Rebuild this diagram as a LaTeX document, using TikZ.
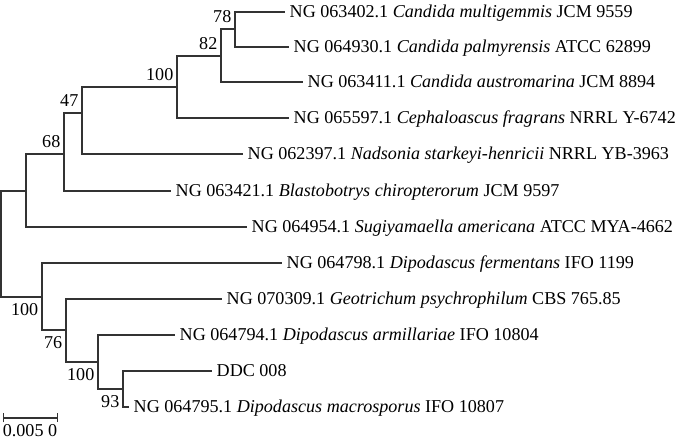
\documentclass[tikz,border=0pt]{standalone}
\usepackage{fontspec}
\setmainfont{Liberation Serif}
\usetikzlibrary{arrows.meta,positioning}

\begin{document}
\begin{tikzpicture}[x=1pt,y=-1pt,
    branch/.style={line width=1.1pt,draw=black!80},
    leaf/.style={anchor=west,inner xsep=4.5pt,inner ysep=0pt,text height=12pt,text depth=0pt,font=\fontsize{18.1}{20}\selectfont},
    bootup/.style={anchor=south east,inner sep=0pt,xshift=-3.5pt,yshift=6pt,font=\fontsize{18.1}{20}\selectfont},
    bootdown/.style={anchor=north east,inner sep=0pt,xshift=-3.5pt,yshift=-6.5pt,font=\fontsize{18.1}{20}\selectfont}]
    \useasboundingbox (0,0) rectangle (678,443);
		\coordinate (root) at (1,244);
		\coordinate (c1) at (26,191); %upper clade
		\coordinate (c2) at (64,154);
		\coordinate (c3) at (82,113);
		\coordinate (c4) at (177,87);
		\coordinate (c5) at (221,56);
		\coordinate (c6) at (235,29);
		\coordinate (c7) at (42,297); %lower clade
		\coordinate (c8) at (66,330);
		\coordinate (c9) at (98,362);
		\coordinate (c10) at (123,389);
		\node[leaf] (1) at (285,12) {NG 063402.1 \textit{Candida multigemmis} JCM 9559};
		\node[leaf] (2) at (289,47) {NG 064930.1 \textit{Candida palmyrensis} ATCC 62899};
		\node[leaf] (3) at (303,82) {NG 063411.1 \textit{Candida austromarina} JCM 8894};
		\node[leaf] (4) at (289,118) {NG 065597.1 \textit{Cephaloascus fragrans} NRRL Y-6742};
		\node[leaf] (5) at (243,154) {NG 062397.1 \textit{Nadsonia starkeyi-henricii} NRRL YB-3963};
		\node[leaf] (6) at (171,191) {NG 063421.1 \textit{Blastobotrys chiropterorum} JCM 9597};
		\node[leaf] (7) at (247,227) {NG 064954.1 \textit{Sugiyamaella americana} ATCC MYA-4662};
		\node[leaf] (8) at (282,263) {NG 064798.1 \textit{Dipodascus fermentans} IFO 1199};
		\node[leaf] (9) at (222,299) {NG 070309.1 \textit{Geotrichum psychrophilum} CBS 765.85};
		\node[leaf] (10) at (175,335) {NG 064794.1 \textit{Dipodascus armillariae} IFO 10804};
		\node[leaf] (11) at (212,371) {DDC 008};
		\node[leaf] (12) at (129,407) {NG 064795.1 \textit{Dipodascus macrosporus} IFO 10807};
		\draw[branch] (root) |- (c1) (root) |- (c7);
		\draw[branch] (c1) |- (c2) (c1) |- (7.west);
		\draw[branch] (c2) |- (c3) (c2) |- (6.west);
		\draw[branch] (c3) |- (c4) (c3) |- (5.west);
		\draw[branch] (c4) |- (c5) (c4) |- (4.west);
		\draw[branch] (c5) |- (c6) (c5) |- (3.west);
		\draw[branch] (c6) |- (1.west) (c6) |- (2.west);
		\draw[branch] (c7) |- (8.west) (c7) |- (c8);
		\draw[branch] (c8) |- (9.west) (c8) |- (c9);
		\draw[branch] (c9) |- (10.west) (c9) |- (c10);
		\draw[branch] (c10) |- (11.west) (c10) |- (12.west);
		\node[bootup] (b68) at (c2) {68};
		\node[bootup] (b47) at (c3) {47};
		\node[bootup] (b100a) at (c4) {100};
		\node[bootup] (b82) at (c5) {82};
		\node[bootup] (b78) at (c6) {78};
		\node[bootdown] (b100b) at (c7) {100};
		\node[bootdown] (b76) at (c8) {76};
		\node[bootdown] (b100c) at (c9) {100};
		\node[bootdown] (b93) at (c10) {93};
		\coordinate (s0) at (3,418);
		\coordinate (s1) at (58,418);
		\draw[branch,{Bar[width=9pt]}-{Bar[width=9pt]}] (s0) -- (s1);
		\node[inner sep=0pt,font=\fontsize{18.1}{20}\selectfont] (scale) at (30,431) {0.005 0};
\end{tikzpicture}
\end{document}
